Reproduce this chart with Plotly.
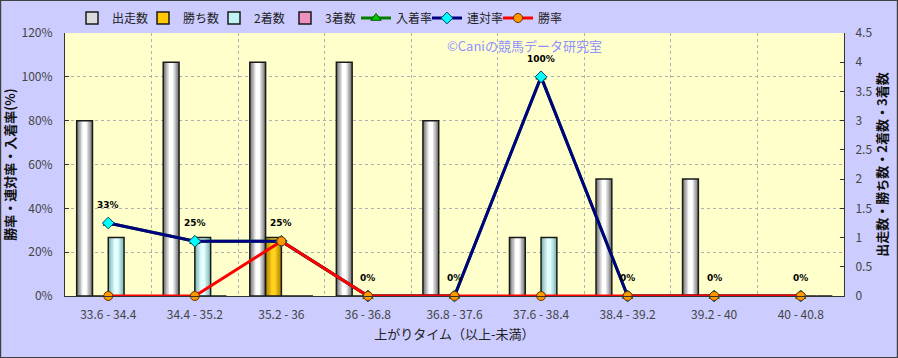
import plotly.graph_objects as go

categories = ["33.6 - 34.4", "34.4 - 35.2", "35.2 - 36", "36 - 36.8", "36.8 - 37.6",
              "37.6 - 38.4", "38.4 - 39.2", "39.2 - 40", "40 - 40.8"]
starts = [3, 4, 4, 4, 3, 1, 2, 2, 0]
wins = [0, 0, 1, 0, 0, 0, 0, 0, 0]
seconds = [1, 1, 0, 0, 0, 1, 0, 0, 0]
thirds = [0, 0, 0, 0, 0, 0, 0, 0, 0]
place_rate = [33.3, 25, 25, 0, 0, 100, 0, 0, 0]
rentai_rate = [33.3, 25, 25, 0, 0, 100, 0, 0, 0]
win_rate = [0, 0, 25, 0, 0, 0, 0, 0, 0]
label_text = ["33%", "25%", "25%", "0%", "0%", "100%", "0%", "0%", "0%"]
pct_ticks = [0, 20, 40, 60, 80, 100, 120]
cnt_ticks = [0, 0.5, 1, 1.5, 2, 2.5, 3, 3.5, 4, 4.5]

FONT = "Noto Sans CJK JP"
W, H = 898, 358
ML, MR, MT, MB = 65, 54, 33, 62
PW, PH = W - ML - MR, H - MT - MB

fig = go.Figure()


def mix(c1, c2, t):
    a = [int(c1[i:i + 2], 16) for i in (1, 3, 5)]
    b = [int(c2[i:i + 2], 16) for i in (1, 3, 5)]
    return "#" + "".join("%02X" % round(a[k] + (b[k] - a[k]) * t) for k in range(3))


BARGAP = 0.27
SLOT = (1 - BARGAP) / 4
bar_specs = [
    ("出走数", starts, "#FFFFFF", "#7A7A7A", "#DCDCDC"),
    ("勝ち数", wins, "#FFD21E", "#B08400", "#FFC800"),
    ("2着数", seconds, "#E4FFFF", "#80B8B8", "#C0F4F4"),
    ("3着数", thirds, "#FFC0DC", "#C06090", "#F090C0"),
]
fracs = [1.0, 0.82, 0.64, 0.46, 0.28]

# legend-only entries
for name, vals, center, edge, legcol in bar_specs:
    fig.add_trace(go.Bar(
        x=[categories[0]], y=[None], name=name, yaxis="y", legendgroup=name,
        marker=dict(color=legcol, line=dict(color="#1A1A1A", width=1.5)),
    ))

for i, (name, vals, center, edge, legcol) in enumerate(bar_specs):
    off0 = -0.5 + BARGAP / 2 + i * SLOT
    for j, f in enumerate(fracs):
        w = SLOT * f
        fig.add_trace(go.Bar(
            x=categories, y=vals, name=name, yaxis="y",
            width=w, offset=off0 + (SLOT - w) / 2,
            showlegend=False, legendgroup=name,
            marker=dict(color=mix(edge, center, j / (len(fracs) - 1)), line=dict(width=0)),
            hoverinfo="skip",
        ))
    fig.add_trace(go.Bar(
        x=categories, y=vals, name=name, yaxis="y", width=SLOT, offset=off0,
        showlegend=False, legendgroup=name,
        marker=dict(color="rgba(0,0,0,0)", line=dict(color="#1A1A1A", width=1.5)),
    ))

line_specs = [
    ("入着率", place_rate, "#008000", "triangle-up", "#00CC00", "#005500"),
    ("連対率", rentai_rate, "#000080", "diamond", "#00FFFF", "#004060"),
    ("勝率", win_rate, "#FF0000", "circle", "#FF9900", "#663300"),
]
for name, vals, lc, sym, mc, mlc in line_specs:
    fig.add_trace(go.Scatter(
        x=categories, y=vals, name=name, yaxis="y2", mode="lines+markers",
        line=dict(color=lc, width=3),
        marker=dict(symbol=sym, size=9, color=mc, line=dict(color=mlc, width=1)),
        cliponaxis=False,
    ))

for c, v, t in zip(categories, rentai_rate, label_text):
    fig.add_annotation(x=c, y=v, xref="x", yref="y2", text="<b>" + t + "</b>",
                       showarrow=False, yshift=18,
                       font=dict(family="DejaVu Sans", size=9, color="#000000"))

fig.add_annotation(x=(445 - ML) / PW, y=1 - (46 - MT) / PH, xref="paper", yref="paper",
                   xanchor="left", yanchor="middle", showarrow=False,
                   text="©Caniの競馬データ研究室",
                   font=dict(family=FONT, size=13, color="#9090FF"))

# outer border
fig.add_shape(type="rect", xref="paper", yref="paper",
              x0=-ML / PW + 0.0006, x1=1 + MR / PW - 0.0006,
              y0=-MB / PH + 0.0014, y1=1 + MT / PH - 0.0014,
              line=dict(color="#404040", width=1.5), layer="above")

fig.update_layout(
    width=W, height=H,
    margin=dict(l=ML, r=MR, t=MT, b=MB, autoexpand=False),
    paper_bgcolor="#CCCCFF", plot_bgcolor="#FFFFCC",
    barmode="overlay",
    font=dict(family=FONT, size=12, color="#333333"),
    showlegend=True,
    legend=dict(orientation="h", xref="container", yref="container",
                x=72 / W, y=1 - 18 / H, yanchor="middle",
                xanchor="left", bgcolor="rgba(0,0,0,0)", font=dict(size=12, color="#222222"),
                traceorder="normal", entrywidth=26, entrywidthmode="pixels",
                tracegroupgap=0),
    xaxis=dict(type="category", range=[-0.5, 8.5], tickson="boundaries", showgrid=True,
               gridcolor="#B0B0B0", griddash="dot", gridwidth=1, ticks="", showline=True,
               linecolor="#333333", automargin=False,
               tickfont=dict(size=12, color="#444444"), ticklabelstandoff=8,
               title=dict(text="上がりタイム（以上-未満）", standoff=8,
                          font=dict(size=13, color="#222222"))),
    yaxis=dict(range=[0, 4.5], tickvals=cnt_ticks, ticktext=[f"{v:g}" for v in cnt_ticks],
               side="right", showgrid=False, ticks="inside", ticklen=4, tickcolor="#333333",
               showline=True, linecolor="#333333", zeroline=False, automargin=False,
               tickfont=dict(size=12, color="#444444"), ticklabelstandoff=8,
               title=dict(text="<b>出走数・勝ち数・2着数・3着数</b>", standoff=6,
                          font=dict(size=13, color="#111111"))),
    yaxis2=dict(range=[0, 120], tickvals=pct_ticks, ticktext=[f"{v}%" for v in pct_ticks],
                overlaying="y", side="left", showgrid=True, gridcolor="#B0B0B0", griddash="dot",
                ticks="inside", ticklen=4, tickcolor="#333333", showline=True,
                linecolor="#333333", zeroline=False, automargin=False,
                tickfont=dict(size=12, color="#444444"), ticklabelstandoff=9,
                title=dict(text="<b>勝率・連対率・入着率(%)</b>", standoff=4,
                           font=dict(size=13, color="#111111"))),
)

fig.write_html("out.html")
